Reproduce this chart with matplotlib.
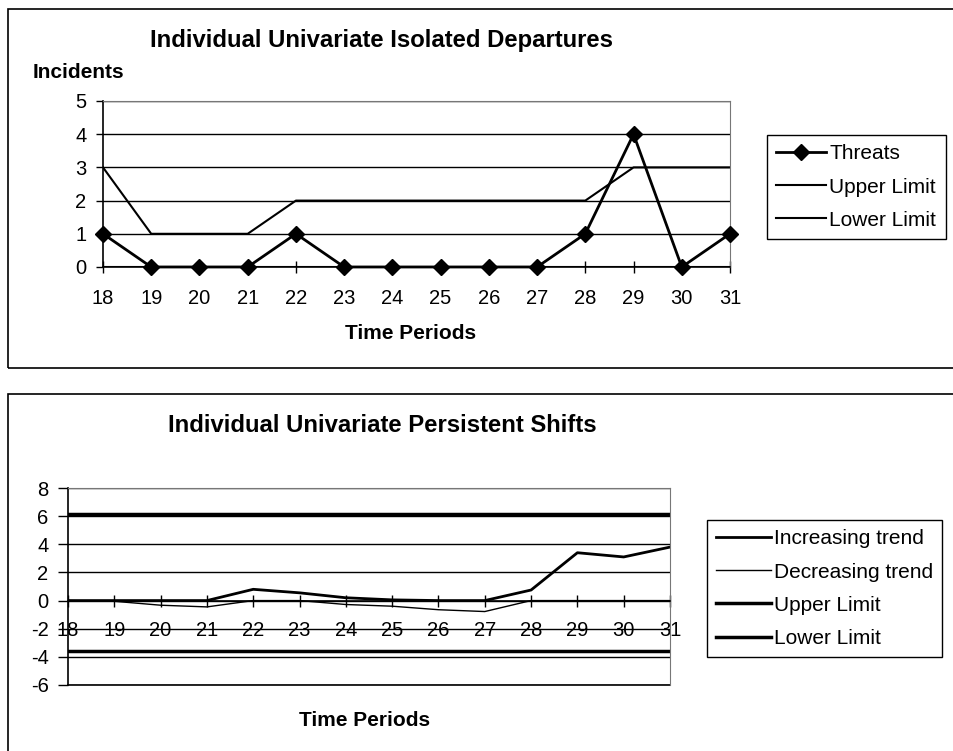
import matplotlib.pyplot as plt
from matplotlib.patches import Rectangle

plt.rcParams['font.family'] = ['Liberation Sans', 'DejaVu Sans']
plt.rcParams['axes.unicode_minus'] = False

# data
periods = [18, 19, 20, 21, 22, 23, 24, 25, 26, 27, 28, 29, 30, 31]
threats = [1, 0, 0, 0, 1, 0, 0, 0, 0, 0, 1, 4, 0, 1]
upper_top = [3, 1, 1, 1, 2, 2, 2, 2, 2, 2, 2, 3, 3, 3]
lower_top = [0, 0, 0, 0, 0, 0, 0, 0, 0, 0, 0, 0, 0, 0]

increasing = [0, 0, 0, 0, 0.8, 0.55, 0.2, 0.05, 0, 0, 0.75, 3.4, 3.1, 3.8]
decreasing = [0, -0.05, -0.33, -0.45, 0, 0, -0.28, -0.4, -0.65, -0.78, 0, 0, 0, 0]
upper_bot = [6.15] * 14
lower_bot = [-3.55] * 14

W, H = 954, 751


def px(x, y, w, h):
    # pixel box (top-left origin) -> figure fraction
    return [x / W, 1 - (y + h) / H, w / W, h / H]


fig = plt.figure(figsize=(W / 100, H / 100), dpi=100)

# outer chart frames (right / bottom edges run off the page like the scan)
for (x, y, w, h) in [(8, 9, 960, 359), (8, 394, 960, 370)]:
    b = px(x, y, w, h)
    fig.patches.append(Rectangle((b[0], b[1]), b[2], b[3], transform=fig.transFigure,
                                 fill=False, edgecolor='black', lw=1.2))


def style_axes(ax, ylo, yhi, ystep, pad_x, ylen):
    ax.set_xlim(18, 31)
    ax.set_ylim(ylo, yhi)
    ax.set_xticks(periods)
    ax.set_yticks(range(ylo, yhi + 1, ystep))
    ax.grid(axis='y', color='black', lw=1)
    ax.set_axisbelow(True)
    for s in ['top', 'right']:
        ax.spines[s].set_color('#777777')
        ax.spines[s].set_linewidth(0.8)
    ax.spines['left'].set_linewidth(1.2)
    ax.spines['bottom'].set_linewidth(1.2)
    ax.tick_params(axis='x', direction='inout', length=8, width=1, pad=pad_x, labelsize=14.5)
    ax.tick_params(axis='y', direction='out', length=ylen, width=1, pad=7, labelsize=14.5)


leg_kw = dict(bbox_transform=fig.transFigure, loc='upper left', fontsize=15, frameon=True,
              fancybox=False, edgecolor='black', framealpha=1, handletextpad=0.15,
              labelspacing=0.68, borderpad=0.45, borderaxespad=0)

# top chart
ax1 = fig.add_axes(px(103, 101, 627, 166))
style_axes(ax1, 0, 5, 1, 12, 5)
ax1.plot(periods, threats, color='black', lw=2, marker='D', ms=8.5, clip_on=False, zorder=5,
         label='Threats')
ax1.plot(periods, upper_top, color='black', lw=1.5, label='Upper Limit')
ax1.plot(periods, lower_top, color='black', lw=1.5, label='Lower Limit')
ax1.legend(bbox_to_anchor=(767 / W, 1 - 135 / H), handlelength=2.4, **leg_kw)

fig.text(382 / W, 1 - 40 / H, 'Individual Univariate Isolated Departures', ha='center', va='center',
         fontsize=17.2, fontweight='bold')
fig.text(33 / W, 1 - 72 / H, 'Incidents', ha='left', va='center', fontsize=15, fontweight='bold')
fig.text(411 / W, 1 - 333 / H, 'Time Periods', ha='center', va='center', fontsize=15, fontweight='bold')

# bottom chart
ax2 = fig.add_axes(px(68, 488, 602, 197))
style_axes(ax2, -6, 8, 2, 11, 7)
ax2.spines['bottom'].set_position(('data', 0))
ax2.axhline(-6, color='black', lw=1.2, clip_on=False)
ax2.plot(periods, increasing, color='black', lw=2, label='Increasing trend')
ax2.plot(periods, decreasing, color='black', lw=1, label='Decreasing trend')
ax2.plot(periods, upper_bot, color='black', lw=2.5, label='Upper Limit')
ax2.plot(periods, lower_bot, color='black', lw=2.5, label='Lower Limit')
ax2.legend(bbox_to_anchor=(707 / W, 1 - 520 / H), handlelength=2.6, **leg_kw)

fig.text(382 / W, 1 - 425 / H, 'Individual Univariate Persistent Shifts', ha='center', va='center',
         fontsize=17.2, fontweight='bold')
fig.text(365 / W, 1 - 720 / H, 'Time Periods', ha='center', va='center', fontsize=15, fontweight='bold')

fig.savefig('out.png', dpi=100)
